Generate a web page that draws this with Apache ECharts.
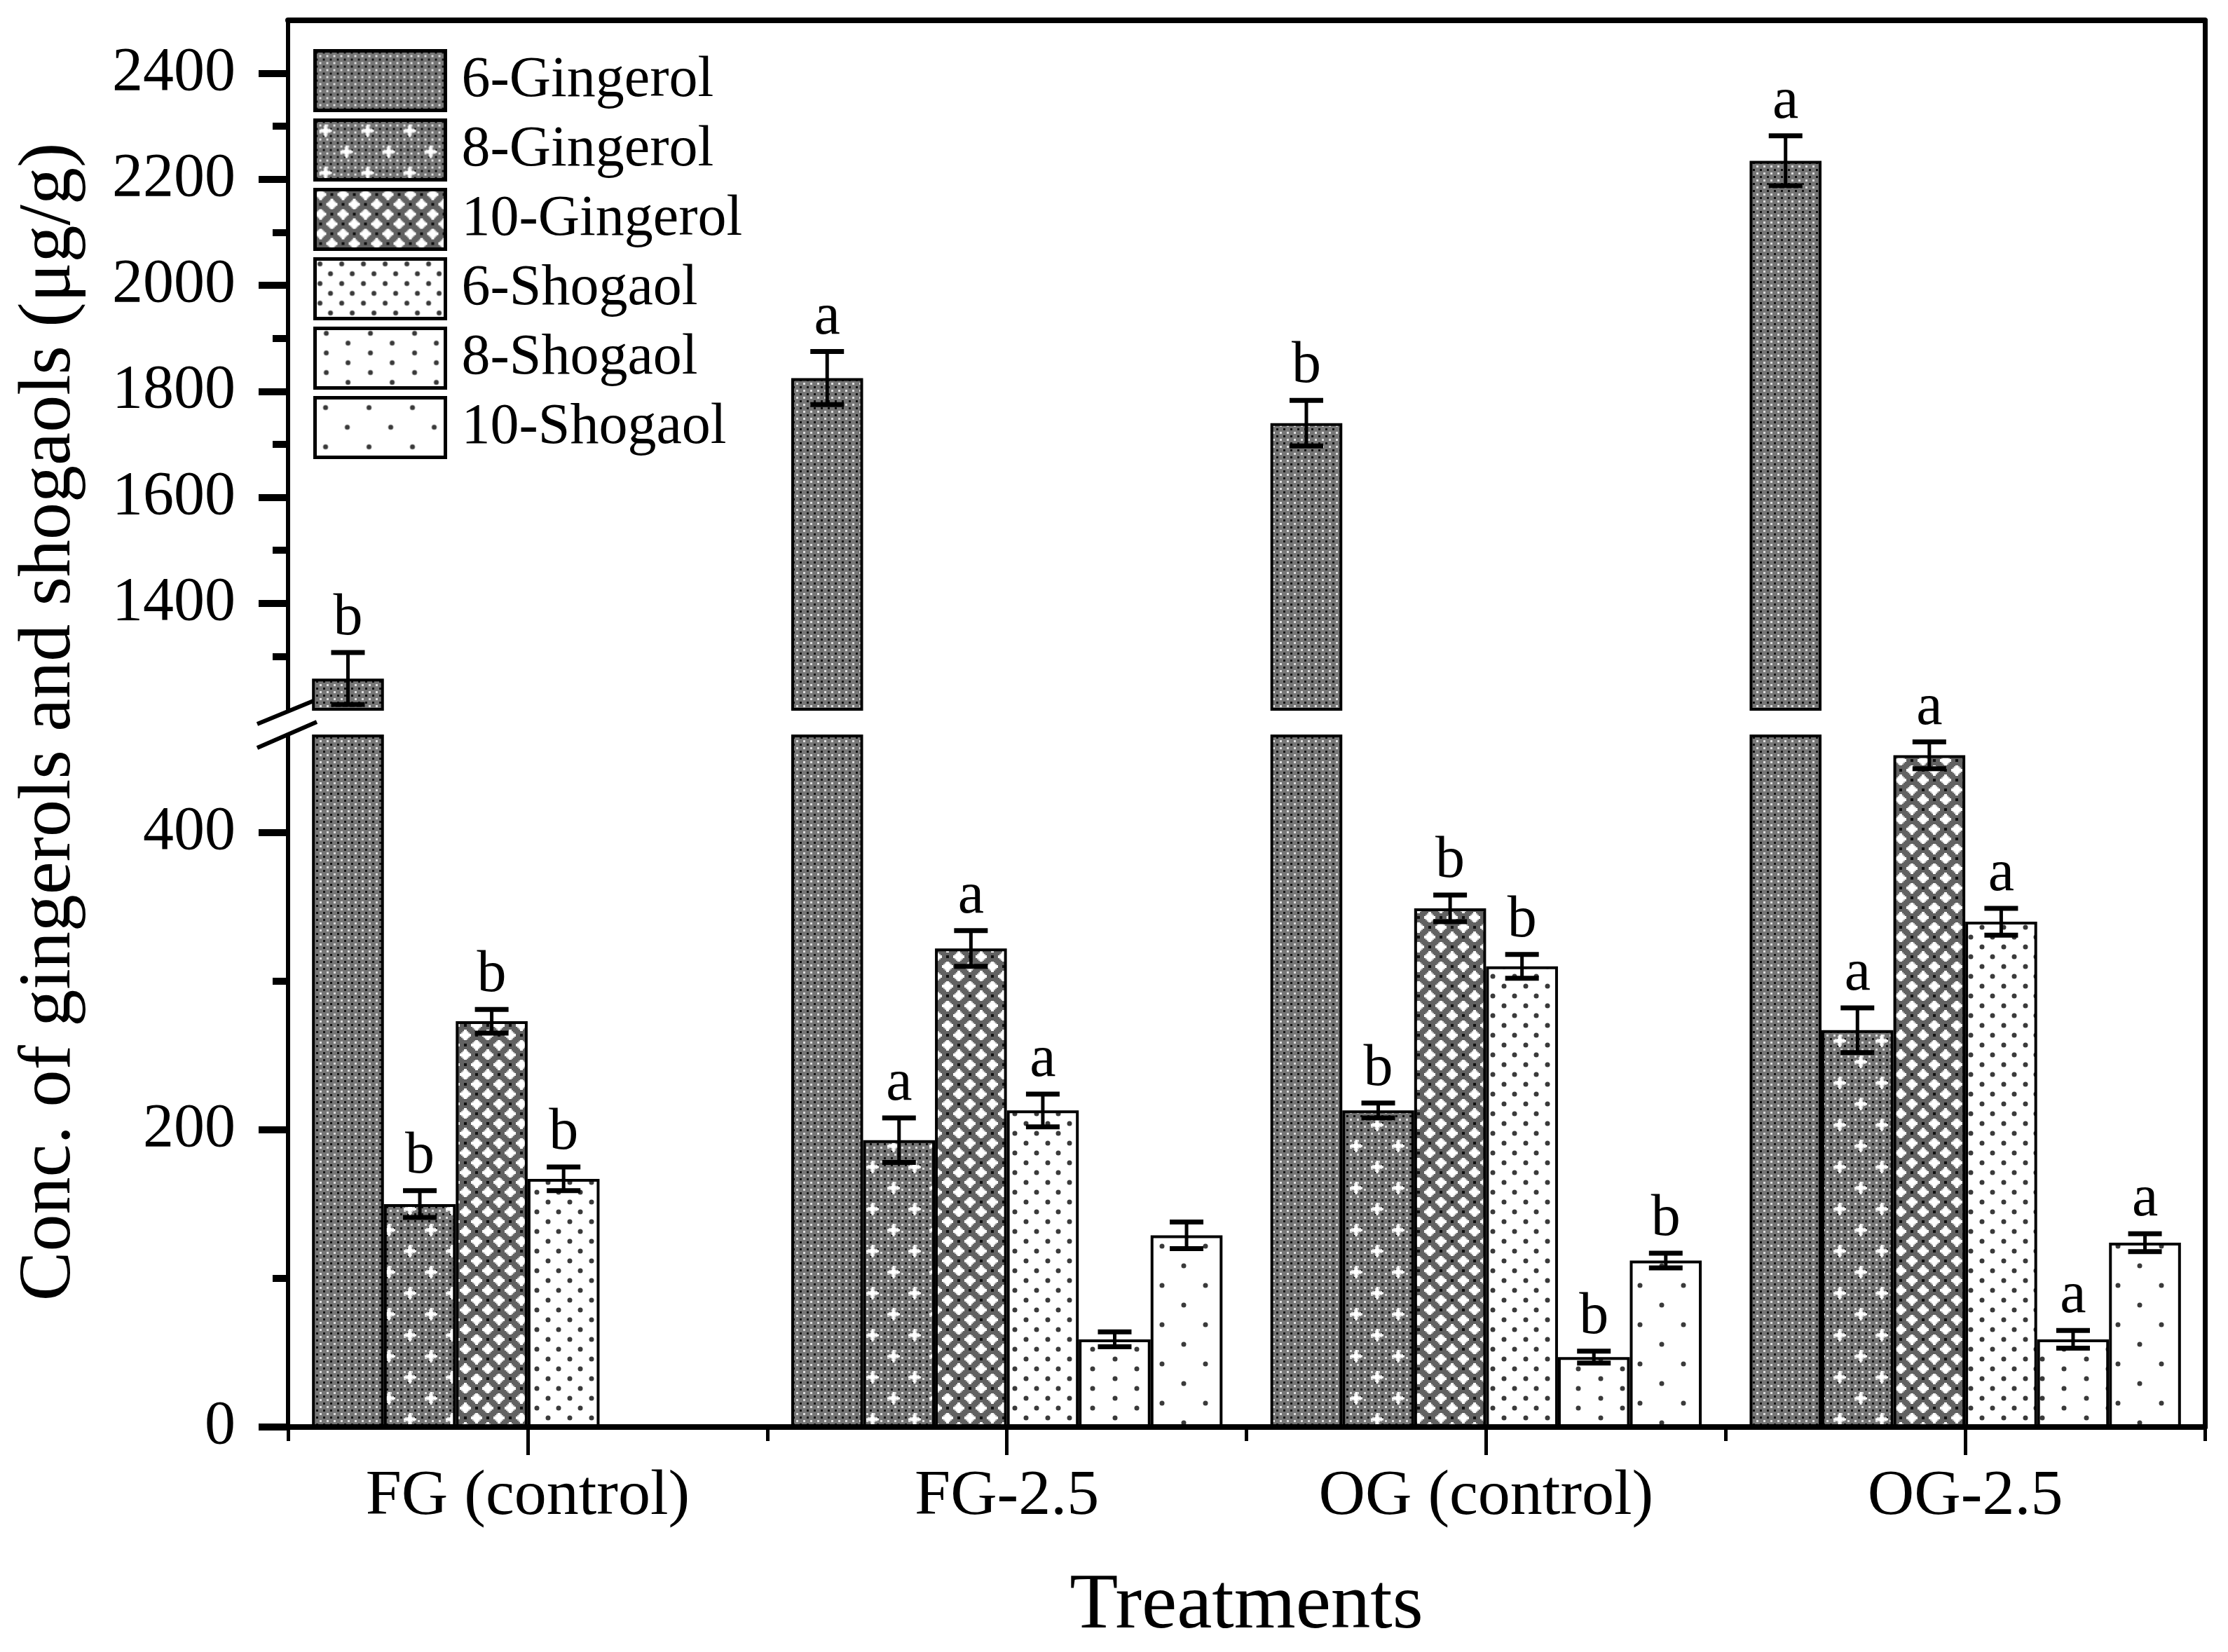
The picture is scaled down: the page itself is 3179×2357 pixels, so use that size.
<!DOCTYPE html>
<html>
<head>
<meta charset="utf-8">
<script src="https://cdn.jsdelivr.net/npm/echarts/dist/echarts.min.js"></script>
<style>
  html, body { margin: 0; padding: 0; background: #fff; }
  #chart { width: 3179px; height: 2357px; }
</style>
</head>
<body>
<div id="chart"></div>
<script>
// ---- data ----
const categories = ['FG (control)', 'FG-2.5', 'OG (control)', 'OG-2.5'];
const seriesNames = ['6-Gingerol', '8-Gingerol', '10-Gingerol', '6-Shogaol', '8-Shogaol', '10-Shogaol'];

const gingerol6 = [1258, 1825, 1740, 2235];
const gingerol8 = [150, 193, 213, 267];
const gingerol10 = [273, 322, 349, 452];
const shogaol6 = [167, 213, 310, 340];
const shogaol8 = [null, 59, 47, 59];
const shogaol10 = [null, 129, 112, 124];

const gingerol6Err = [49, 50, 43, 47];
const gingerol8Err = [9, 15, 5, 15];
const gingerol10Err = [8, 12, 9, 9];
const shogaol6Err = [8, 11, 8, 9];
const shogaol8Err = [null, 5, 4, 6];
const shogaol10Err = [null, 9, 5, 6];

const gingerol6Letters = ['b', 'a', 'b', 'a'];
const gingerol8Letters = ['b', 'a', 'b', 'a'];
const gingerol10Letters = ['b', 'a', 'b', 'a'];
const shogaol6Letters = ['b', 'a', 'b', 'a'];
const shogaol8Letters = ['', '', 'b', 'a'];
const shogaol10Letters = ['', '', 'b', 'a'];

// broken y axis: upper and lower parts
const upperRange = [1200, 2500];
const lowerRange = [0, 465];
const upperTicks = [1400, 1600, 1800, 2000, 2200, 2400];
const upperMinorTicks = [1300, 1500, 1700, 1900, 2100, 2300];
const lowerTicks = [0, 200, 400];
const lowerMinorTicks = [100, 300];

const values = [gingerol6, gingerol8, gingerol10, shogaol6, shogaol8, shogaol10];
const errors = [gingerol6Err, gingerol8Err, gingerol10Err, shogaol6Err, shogaol8Err, shogaol10Err];
const letters = [gingerol6Letters, gingerol8Letters, gingerol10Letters, shogaol6Letters, shogaol8Letters, shogaol10Letters];

const FONT = '"Liberation Serif", "Times New Roman", serif';

// ---- fill textures ----
function tile(w, h, draw) {
  const c = document.createElement('canvas');
  c.width = w; c.height = h;
  const ctx = c.getContext('2d');
  draw(ctx, w, h);
  return { image: c, repeat: 'repeat' };
}
function fineGrey(ctx, w, h) {
  ctx.fillStyle = '#767676';
  ctx.fillRect(0, 0, w, h);
  for (let y = 0; y < h; y += 10) {
    for (let x = 0; x < w; x += 10) {
      ctx.fillStyle = '#111';
      ctx.fillRect(x + 1, y + 1, 3, 3);
      ctx.fillStyle = '#e0e0e0';
      ctx.fillRect(x + 6, y + 6, 3, 3);
    }
  }
}
function star(ctx, cx, cy, r, t) {
  ctx.fillStyle = '#d0d0d0';
  ctx.fillRect(cx - r + 2, cy - t, 2 * r - 4, 2 * t);
  ctx.fillRect(cx - t, cy - r + 2, 2 * t, 2 * r - 4);
  ctx.fillStyle = '#fff';
  ctx.fillRect(cx - r, cy - t / 2, 2 * r, t);
  ctx.fillRect(cx - t / 2, cy - r, t, 2 * r);
  ctx.fillRect(cx - t, cy - t, 2 * t, 2 * t);
}
function dots(ctx, w, h, pts, rad) {
  ctx.fillStyle = '#fff';
  ctx.fillRect(0, 0, w, h);
  ctx.fillStyle = '#3a3a3a';
  pts.forEach(p => { ctx.beginPath(); ctx.arc(p[0], p[1], rad, 0, Math.PI * 2); ctx.fill(); });
}
const patterns = [
  tile(20, 20, fineGrey),
  tile(60, 60, (ctx, w, h) => { fineGrey(ctx, w, h); star(ctx, 15, 15, 9, 3); star(ctx, 45, 45, 9, 3); }),
  tile(32, 28, (ctx, w, h) => {
    ctx.fillStyle = '#626262'; ctx.fillRect(0, 0, w, h);
    ctx.fillStyle = '#111';
    ctx.fillRect(22, 5, 4, 4); ctx.fillRect(6, 19, 4, 4);
    star(ctx, 8, 7, 8, 4); star(ctx, 24, 21, 8, 4);
  }),
  tile(31, 28, (ctx, w, h) => dots(ctx, w, h, [[7, 7], [22, 21]], 3.5)),
  tile(63, 28, (ctx, w, h) => dots(ctx, w, h, [[16, 7], [47, 21]], 3.5)),
  tile(62, 56, (ctx, w, h) => dots(ctx, w, h, [[15, 14], [46, 42]], 3.5))
];

// ---- layout ----
const L = 411, R = 33;
const TOP = 29, UPPER_BOTTOM = 1012, LOWER_TOP = 1050, AXIS_Y = 2036;
const W = 3179, H = 2357;

const BAR_GAP_CAT = 0.1;
const N = seriesNames.length;

function errorSeries(k, xAxisIndex, yAxisIndex, range) {
  const data = [];
  const lab = [];
  values[k].forEach((v, i) => {
    if (v == null) return;
    if (v < range[0] || v > range[1]) return;
    data.push([i, v, errors[k][i]]);
    lab.push(letters[k][i]);
  });
  return {
    type: 'custom',
    xAxisIndex, yAxisIndex,
    z: 5,
    clip: false,
    silent: true,
    data,
    renderItem: function (params, api) {
      const ci = api.value(0), v = api.value(1), e = api.value(2);
      const band = api.size([1, 0])[0];
      const bw = band * (1 - BAR_GAP_CAT) / N;
      const x = api.coord([ci, v])[0] + (k - (N - 1) / 2) * bw;
      const yTop = api.coord([ci, v + e])[1];
      const yBot = api.coord([ci, v - e])[1];
      const cap = 24;
      const children = [
        { type: 'line', shape: { x1: x, y1: yTop, x2: x, y2: yBot }, style: { stroke: '#000', lineWidth: 5 } },
        { type: 'line', shape: { x1: x - cap, y1: yTop, x2: x + cap, y2: yTop }, style: { stroke: '#000', lineWidth: 7 } },
        { type: 'line', shape: { x1: x - cap, y1: yBot, x2: x + cap, y2: yBot }, style: { stroke: '#000', lineWidth: 7 } }
      ];
      const t = lab[params.dataIndex];
      if (t) {
        children.push({
          type: 'text',
          style: { text: t, x: x, y: yTop - 6, fill: '#000', font: '84px ' + FONT, align: 'center', verticalAlign: 'bottom' }
        });
      }
      return { type: 'group', children };
    }
  };
}

const series = [];
values.forEach((vals, k) => {
  const common = {
    type: 'bar',
    name: seriesNames[k],
    data: vals,
    barGap: '0%',
    barCategoryGap: (BAR_GAP_CAT * 100) + '%',
    clip: true,
    silent: true,
    itemStyle: { color: patterns[k], borderColor: '#000', borderWidth: 4 }
  };
  series.push(Object.assign({}, common, { xAxisIndex: 1, yAxisIndex: 2 }));
  series.push(Object.assign({}, common, { xAxisIndex: 0, yAxisIndex: 0 }));
});
values.forEach((vals, k) => {
  series.push(errorSeries(k, 0, 0, upperRange));
  series.push(errorSeries(k, 1, 2, lowerRange));
});

const tickLabel = { fontFamily: FONT, fontSize: 88, color: '#000', margin: 75, formatter: v => String(v) };
const axisBlack = (w) => ({ show: true, onZero: false, lineStyle: { color: '#000', width: w } });
const ticks = (vals, len, w) => ({ show: true, inside: false, customValues: vals, length: len, lineStyle: { color: '#000', width: w, opacity: 1 } });

const option = {
  animation: false,
  backgroundColor: '#fff',
  grid: [
    { left: L, right: R, top: TOP, bottom: H - UPPER_BOTTOM },
    { left: L, right: R, top: LOWER_TOP, bottom: H - AXIS_Y },
    { left: L, right: R, top: TOP, bottom: H - AXIS_Y }
  ],
  xAxis: [
    { gridIndex: 0, type: 'category', data: categories, show: false },
    {
      gridIndex: 1, type: 'category', data: categories, position: 'bottom',
      axisLine: axisBlack(8),
      axisTick: { show: true, alignWithLabel: true, length: 40, lineStyle: { color: '#000', width: 5 } },
      axisLabel: { fontFamily: FONT, fontSize: 92, color: '#000', margin: 54 },
      name: 'Treatments', nameLocation: 'middle', nameGap: 200,
      nameTextStyle: { fontFamily: FONT, fontSize: 113, color: '#000' }
    },
    {
      gridIndex: 1, type: 'category', data: categories, position: 'bottom',
      axisLine: { show: false },
      axisTick: { show: true, alignWithLabel: false, length: 20, lineStyle: { color: '#000', width: 5 } },
      axisLabel: { show: false }
    },
    {
      gridIndex: 2, type: 'value', position: 'top', min: 0, max: 1,
      axisLine: axisBlack(8), axisTick: { show: false }, axisLabel: { show: false }, splitLine: { show: false }
    }
  ],
  yAxis: [
    {
      gridIndex: 0, type: 'value', position: 'left', min: upperRange[0], max: upperRange[1],
      axisLine: axisBlack(6), splitLine: { show: false },
      axisTick: ticks(upperTicks, 42, 10),
      axisLabel: Object.assign({ customValues: upperTicks }, tickLabel)
    },
    {
      gridIndex: 0, type: 'value', position: 'left', min: upperRange[0], max: upperRange[1],
      axisLine: { show: false }, splitLine: { show: false }, axisLabel: { show: false },
      axisTick: ticks(upperMinorTicks, 22, 10)
    },
    {
      gridIndex: 1, type: 'value', position: 'left', min: lowerRange[0], max: lowerRange[1],
      axisLine: axisBlack(6), splitLine: { show: false },
      axisTick: ticks(lowerTicks, 42, 10),
      axisLabel: Object.assign({ customValues: lowerTicks }, tickLabel)
    },
    {
      gridIndex: 1, type: 'value', position: 'left', min: lowerRange[0], max: lowerRange[1],
      axisLine: { show: false }, splitLine: { show: false }, axisLabel: { show: false },
      axisTick: ticks(lowerMinorTicks, 22, 10)
    },
    {
      gridIndex: 2, type: 'value', position: 'right', min: 0, max: 1,
      axisLine: axisBlack(7), axisTick: { show: false }, axisLabel: { show: false }, splitLine: { show: false }
    }
  ],
  legend: {
    data: seriesNames,
    orient: 'vertical',
    left: 442, top: 65,
    itemWidth: 186, itemHeight: 85, itemGap: 9,
    icon: 'rect',
    itemStyle: { borderColor: '#000', borderWidth: 5 },
    textStyle: { fontFamily: FONT, fontSize: 82, color: '#000', padding: [0, 0, 0, 18] }
  },
  graphic: [
    {
      type: 'text', x: 71, y: 1030, rotation: Math.PI / 2,
      style: { text: 'Conc. of gingerols and shogaols (μg/g)', font: '106px ' + FONT, fill: '#000', align: 'center', verticalAlign: 'middle' }
    },
    { type: 'line', shape: { x1: 367, y1: 1033, x2: 452, y2: 998 }, style: { stroke: '#000', lineWidth: 6 } },
    { type: 'line', shape: { x1: 367, y1: 1067, x2: 452, y2: 1030 }, style: { stroke: '#000', lineWidth: 6 } }
  ],
  series
};

const chart = echarts.init(document.getElementById('chart'), null, { renderer: 'canvas' });
chart.setOption(option);
</script>
</body>
</html>
